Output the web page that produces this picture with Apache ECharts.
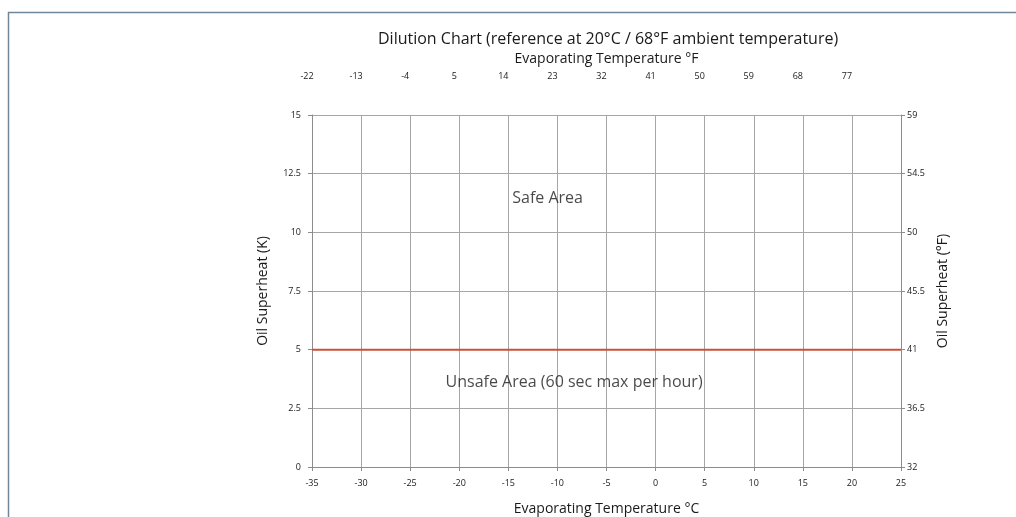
<!DOCTYPE html>
<html>
<head>
<meta charset="utf-8">
<script src="https://cdn.jsdelivr.net/npm/echarts@6/dist/echarts.min.js"></script>
<style>
  html, body { margin: 0; padding: 0; background: #fff; }
  #chart { width: 1016px; height: 517px; }
</style>
</head>
<body>
<div id="chart"></div>
<script>
// bottom axis (°C) and the matching °F labels on top
const celsiusRange = [-35, 25];
const fahrenheitLabels = ["-22", "-13", "-4", "5", "14", "23", "32", "41", "50", "59", "68", "77"];

// left axis (K) and the °F labels on the right
const superheatRange = [0, 15];
const superheatF = ["32", "36.5", "41", "45.5", "50", "54.5", "59"];

// the dilution limit line
const limitLine = [[-35, 5], [25, 5]];

// area captions
const areaNotes = [
  { name: "Safe Area", value: [-11, 11.45] },
  { name: "Unsafe Area (60 sec max per hour)", value: [-8.3, 3.6] }
];

const FONT = "'Open Sans', 'Noto Sans', sans-serif";
const axisGrey = "#8c8c8c";
const gridGrey = "#a6a6a6";
const ink = "#1a1a1a";

const chart = echarts.init(document.getElementById("chart"));

chart.setOption({
  backgroundColor: "#fff",
  animation: false,
  textStyle: { fontFamily: FONT },
  title: {
    text: "Dilution Chart (reference at 20°C / 68°F ambient temperature)",
    left: 373,
    top: 26,
    textStyle: { fontFamily: FONT, fontSize: 16, fontWeight: "normal", color: ink }
  },
  graphic: [
    {
      type: "rect",
      shape: { x: 8.5, y: 12.5, width: 2000, height: 2000 },
      style: { fill: "none", stroke: "#6f8799", lineWidth: 1.5 },
      silent: true
    }
  ],
  grid: { left: 312, right: 115, top: 115, bottom: 50, outerBoundsMode: "none", containLabel: false },
  xAxis: [
    {
      type: "value",
      position: "bottom",
      min: celsiusRange[0],
      max: celsiusRange[1],
      interval: 5,
      name: "Evaporating Temperature °C",
      nameLocation: "middle",
      nameGap: 35,
      nameTextStyle: { fontFamily: FONT, fontSize: 14, color: ink },
      axisLine: { show: true, onZero: false, lineStyle: { color: axisGrey } },
      axisTick: { show: true, length: 4, lineStyle: { color: axisGrey } },
      axisLabel: { fontFamily: FONT, fontSize: 9, color: ink, margin: 12 },
      splitLine: { show: true, lineStyle: { color: gridGrey } }
    },
    {
      type: "value",
      position: "top",
      min: celsiusRange[0],
      max: celsiusRange[1],
      interval: 5,
      name: "Evaporating Temperature °F",
      nameLocation: "middle",
      nameGap: 49,
      nameTextStyle: { fontFamily: FONT, fontSize: 14, color: ink },
      axisLine: { show: false },
      axisTick: { show: false },
      axisLabel: {
        fontFamily: FONT, fontSize: 9, color: ink, margin: 34,
        padding: [0, 10, 0, 0],
        formatter: (v) => {
          const i = Math.round((v - celsiusRange[0]) / 5);
          return fahrenheitLabels[i] || "";
        }
      },
      splitLine: { show: false }
    }
  ],
  yAxis: [
    {
      type: "value",
      position: "left",
      min: superheatRange[0],
      max: superheatRange[1],
      interval: 2.5,
      name: "Oil Superheat (K)",
      nameLocation: "middle",
      nameGap: 42,
      nameTextStyle: { fontFamily: FONT, fontSize: 14, color: ink },
      axisLine: { show: true, onZero: false, lineStyle: { color: axisGrey } },
      axisTick: { show: true, length: 4, lineStyle: { color: axisGrey } },
      axisLabel: { fontFamily: FONT, fontSize: 9, color: ink, margin: 11 },
      splitLine: { show: true, lineStyle: { color: gridGrey } }
    },
    {
      type: "value",
      position: "right",
      min: superheatRange[0],
      max: superheatRange[1],
      interval: 2.5,
      name: "Oil Superheat (°F)",
      nameLocation: "middle",
      nameGap: 30,
      nameTextStyle: { fontFamily: FONT, fontSize: 14, color: ink },
      axisLine: { show: true, onZero: false, lineStyle: { color: axisGrey } },
      axisTick: { show: true, length: 4, lineStyle: { color: axisGrey } },
      axisLabel: {
        fontFamily: FONT, fontSize: 9, color: ink, margin: 6,
        formatter: (v) => superheatF[Math.round(v / 2.5)] || ""
      },
      splitLine: { show: false }
    }
  ],
  series: [
    {
      type: "line",
      data: limitLine,
      symbol: "none",
      lineStyle: { color: "#c9503a", width: 2 },
      z: 5
    },
    {
      type: "scatter",
      data: areaNotes,
      symbolSize: 0,
      silent: true,
      label: {
        show: true,
        position: "inside",
        formatter: (p) => p.name,
        fontFamily: FONT,
        fontSize: 16,
        color: ink
      }
    }
  ]
});
</script>
</body>
</html>
